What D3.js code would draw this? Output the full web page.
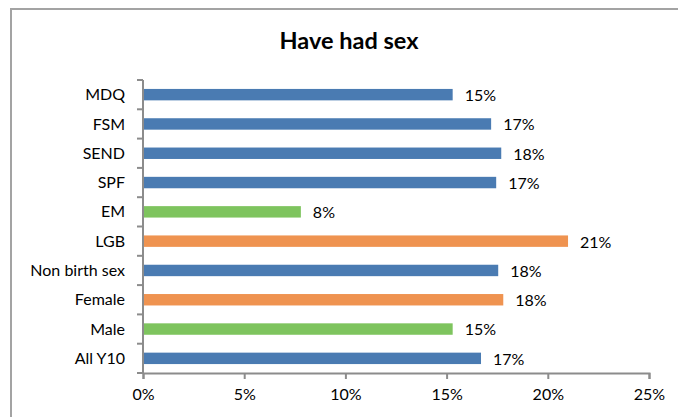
<!DOCTYPE html>
<html>
<head>
<meta charset="utf-8">
<script src="https://cdn.jsdelivr.net/npm/d3@7"></script>
<style>
  body { margin: 0; background: #fff; }
  text { font-family: Lato, "Open Sans", sans-serif; fill: #000; }
  .axis path, .axis line { stroke: #8c8c8c; stroke-width: 2; }
  .axis text { font-size: 16px; }
</style>
</head>
<body>
<script>
// data, top to bottom
var categories = ["MDQ", "FSM", "SEND", "SPF", "EM", "LGB", "Non birth sex", "Female", "Male", "All Y10"];
var values = [15.3, 17.2, 17.7, 17.45, 7.8, 21.0, 17.55, 17.8, 15.3, 16.7];
// green = lower than all Y10, orange = higher
var flags = ["", "", "", "", "low", "high", "", "high", "low", ""];
var xTicks = [0, 5, 10, 15, 20, 25];

var width = 678;
var height = 417;
var padding = {left: 143, right: 29, top: 80, bottom: 44};

var svg = d3.select("body")
    .append("svg")
    .attr("width", width)
    .attr("height", height);

// chart frame
svg.append("rect")
    .attr("x", 11)
    .attr("y", 9)
    .attr("width", 700)
    .attr("height", 450)
    .attr("fill", "none")
    .attr("stroke", "#a3a3a3")
    .attr("stroke-width", 2);

svg.append("text")
    .attr("x", 349)
    .attr("y", 49)
    .attr("text-anchor", "middle")
    .style("font-size", "23.5px")
    .style("font-weight", "bold")
    .text("Have had sex");

var xScale = d3.scaleLinear()
    .domain([0, 25])
    .range([padding.left, width - padding.right]);

var yScale = d3.scaleBand()
    .domain(categories)
    .range([padding.top, height - padding.bottom])
    .paddingInner(0.61)
    .paddingOuter(0.305);

var colour = d3.scaleOrdinal()
    .domain(["", "low", "high"])
    .range(["#4a7bb2", "#7ec45e", "#ef9350"]);

svg.selectAll(".bar")
    .data(categories)
    .enter()
    .append("rect")
    .attr("class", "bar")
    .attr("x", xScale(0))
    .attr("y", function(d) { return yScale(d); })
    .attr("width", function(d, i) { return xScale(values[i]) - xScale(0); })
    .attr("height", yScale.bandwidth())
    .attr("fill", function(d, i) { return colour(flags[i]); });

svg.selectAll(".val")
    .data(categories)
    .enter()
    .append("text")
    .attr("class", "val")
    .attr("x", function(d, i) { return xScale(values[i]) + 12; })
    .attr("y", function(d) { return yScale(d) + yScale.bandwidth() / 2; })
    .attr("dy", "0.4em")
    .style("font-size", "16px")
    .text(function(d, i) { return Math.round(values[i]) + "%"; });

// x axis
var xAxis = d3.axisBottom(xScale)
    .tickValues(xTicks)
    .tickSize(6)
    .tickSizeOuter(6)
    .tickPadding(10)
    .tickFormat(function(d) { return d + "%"; });

svg.append("g")
    .attr("class", "axis")
    .attr("transform", "translate(0," + (height - padding.bottom) + ")")
    .call(xAxis);

// y axis: ticks sit between the bands
var yAxisG = svg.append("g")
    .attr("class", "axis")
    .attr("transform", "translate(" + padding.left + ",0)");

yAxisG.append("line")
    .attr("x1", 0).attr("x2", 0)
    .attr("y1", padding.top)
    .attr("y2", height - padding.bottom);

var step = yScale.step();
var bounds = d3.range(categories.length + 1).map(function(i) { return padding.top + i * step; });

yAxisG.selectAll(".ytick")
    .data(bounds)
    .enter()
    .append("line")
    .attr("class", "ytick")
    .attr("x1", -6).attr("x2", 0)
    .attr("y1", function(d) { return d; })
    .attr("y2", function(d) { return d; });

yAxisG.selectAll(".ylab")
    .data(categories)
    .enter()
    .append("text")
    .attr("class", "ylab")
    .attr("x", -18)
    .attr("y", function(d) { return yScale(d) + yScale.bandwidth() / 2; })
    .attr("dy", "0.35em")
    .attr("text-anchor", "end")
    .text(function(d) { return d; });
</script>
</body>
</html>
